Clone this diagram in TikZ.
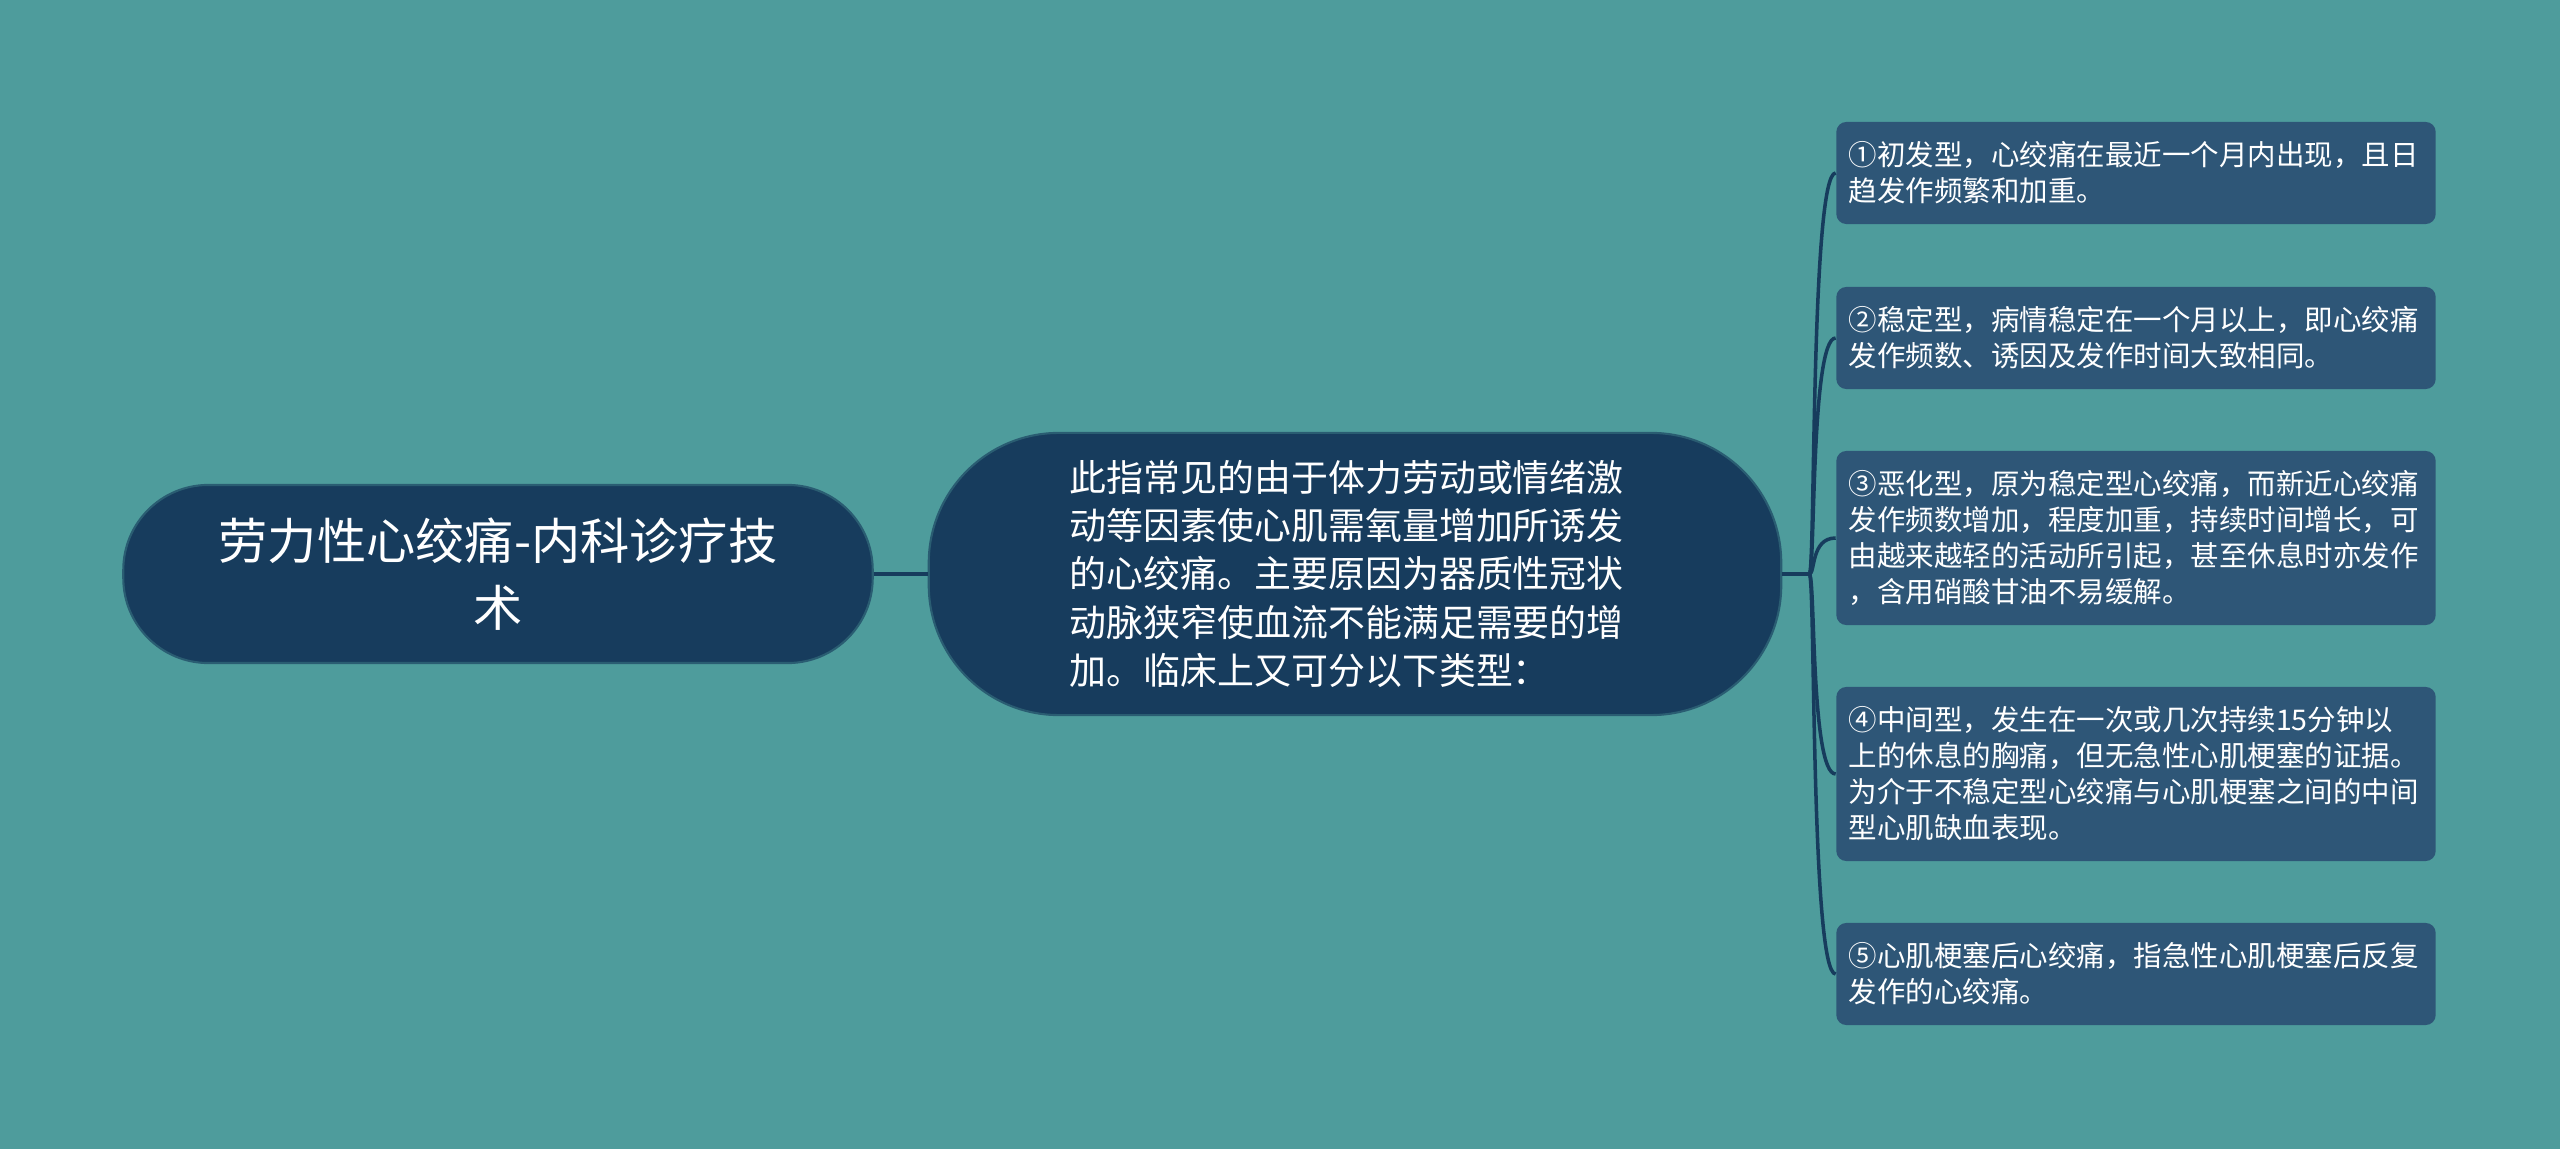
\documentclass[tikz,border=0pt]{standalone}
\usepackage{fontspec}
\newfontfamily\cjk{Noto Sans CJK SC}

\definecolor{bgteal}{HTML}{4E9C9C}
\definecolor{navy}{HTML}{173C5D}
\definecolor{navyedge}{HTML}{2A5D72}
\definecolor{boxblue}{HTML}{2E5677}

\begin{document}
\begin{tikzpicture}[x=0.01cm, y=-0.01cm,
    title/.style={fill=navy, draw=navyedge, line width=0.6pt, text=white,
        rounded corners=0.85cm, minimum width=7.49cm, minimum height=1.78cm,
        align=center, font=\cjk\fontsize{14pt}{19pt}\selectfont},
    descbox/.style={fill=navy, draw=navyedge, line width=0.6pt, text=white,
        rounded corners=1.3cm, minimum width=8.52cm, minimum height=2.82cm,
        text width=5.7cm, align=left, font=\cjk\fontsize{10.5pt}{13.66pt}\selectfont},
    typebox/.style={fill=boxblue, text=white, rounded corners=0.1cm,
        text width=5.74cm, inner xsep=0.125cm, minimum width=5.99cm,
        align=left, font=\cjk\fontsize{8.1pt}{10.25pt}\selectfont},
    link/.style={draw=navy, line width=1pt}]

    % --- Background ---
    \useasboundingbox (0,0) rectangle (2560,1149);
    \fill[bgteal] (0,0) rectangle (2560,1149);

    % --- Main nodes ---
    \node[title] (root) at (498,574) {劳力性心绞痛-内科诊疗技\\术};
    \node[descbox] (desc) at (1355,574) {此指常见的由于体力劳动或情绪激\\
        动等因素使心肌需氧量增加所诱发\\
        的心绞痛。主要原因为器质性冠状\\
        动脉狭窄使血流不能满足需要的增\\
        加。临床上又可分以下类型：};

    % --- Types on the right ---
    \node[typebox, minimum height=1.02cm] (type1) at (2136,173)
        {①初发型，心绞痛在最近一个月内出现，且日\\趋发作频繁和加重。};
    \node[typebox, minimum height=1.02cm] (type2) at (2136,338)
        {②稳定型，病情稳定在一个月以上，即心绞痛\\发作频数、诱因及发作时间大致相同。};
    \node[typebox, minimum height=1.74cm] (type3) at (2136,538)
        {③恶化型，原为稳定型心绞痛，而新近心绞痛\\发作频数增加，程度加重，持续时间增长，可\\由越来越轻的活动所引起，甚至休息时亦发作\\，含用硝酸甘油不易缓解。};
    \node[typebox, minimum height=1.74cm] (type4) at (2136,774)
        {④中间型，发生在一次或几次持续15分钟以\\上的休息的胸痛，但无急性心肌梗塞的证据。\\为介于不稳定型心绞痛与心肌梗塞之间的中间\\型心肌缺血表现。};
    \node[typebox, minimum height=1.02cm] (type5) at (2136,974)
        {⑤心肌梗塞后心绞痛，指急性心肌梗塞后反复\\发作的心绞痛。};

    % --- Connectors ---
    \draw[link] (root.east) -- (desc.west);
    % hub just right of the description
    \coordinate (hub) at ([xshift=0.27cm]desc.east);
    \draw[link] (desc.east) -- (hub);
    \foreach \n in {1,...,5}
        \draw[link] (hub) .. controls +(6,0) and +(-25,0) .. (type\n.west);

\end{tikzpicture}
\end{document}
